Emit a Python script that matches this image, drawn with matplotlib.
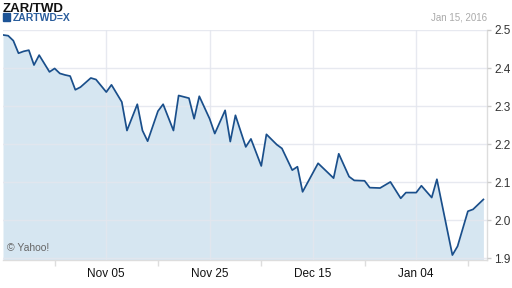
import matplotlib
matplotlib.use("Agg")
import matplotlib.pyplot as plt
import pandas as pd

plt.rcParams['font.family'] = ['Liberation Sans', 'DejaVu Sans']

title = "ZAR/TWD"
series_name = "ZARTWD=X"
date_label = "Jan 15, 2016"
credit = "\u00a9 Yahoo!"

dates = ["2015-10-16", "2015-10-17", "2015-10-18", "2015-10-19", "2015-10-20",
         "2015-10-21", "2015-10-22", "2015-10-23", "2015-10-25", "2015-10-26",
         "2015-10-27", "2015-10-28", "2015-10-29", "2015-10-30", "2015-10-31",
         "2015-11-02", "2015-11-03", "2015-11-05", "2015-11-06", "2015-11-08",
         "2015-11-09", "2015-11-11", "2015-11-12", "2015-11-13", "2015-11-15",
         "2015-11-16", "2015-11-18", "2015-11-19", "2015-11-21", "2015-11-22",
         "2015-11-23", "2015-11-25", "2015-11-26", "2015-11-28", "2015-11-29",
         "2015-11-30", "2015-12-02", "2015-12-03", "2015-12-05", "2015-12-06",
         "2015-12-08", "2015-12-09", "2015-12-11", "2015-12-12", "2015-12-13",
         "2015-12-16", "2015-12-19", "2015-12-20", "2015-12-22", "2015-12-23",
         "2015-12-25", "2015-12-26", "2015-12-28", "2015-12-30", "2016-01-01",
         "2016-01-02", "2016-01-04", "2016-01-05", "2016-01-07", "2016-01-08",
         "2016-01-11", "2016-01-12", "2016-01-14", "2016-01-15", "2016-01-17"]

rates = [2.487, 2.485, 2.472, 2.439, 2.444, 2.447, 2.408, 2.434,
         2.390, 2.399, 2.386, 2.382, 2.379, 2.343, 2.350,
         2.374, 2.370, 2.337, 2.356, 2.311, 2.236, 2.305, 2.236, 2.208,
         2.287, 2.305, 2.236, 2.328, 2.321, 2.267, 2.326,
         2.267, 2.228, 2.289, 2.207, 2.276,
         2.193, 2.214, 2.143, 2.226, 2.199, 2.189, 2.132, 2.141, 2.075,
         2.150, 2.111, 2.175, 2.115, 2.105, 2.104, 2.086, 2.085, 2.101,
         2.058, 2.073, 2.073, 2.091, 2.060, 2.108,
         1.909, 1.932, 2.024, 2.029, 2.055]

y_ticks = [1.9, 2.0, 2.1, 2.2, 2.3, 2.4, 2.5]
x_major = ["2015-11-05", "2015-11-25", "2015-12-15", "2016-01-04"]
x_minor = ["2015-10-26", "2015-11-15", "2015-12-05", "2015-12-25", "2016-01-14"]
x_major_labels = ["Nov 05", "Nov 25", "Dec 15", "Jan 04"]

x = pd.to_datetime(dates)
line_color = "#1a4f8b"
fill_color = "#d6e6f1"
grid_color = "#e3e6ee"

W, H = 512, 288
fig = plt.figure(figsize=(W / 100, H / 100), dpi=100)
ax = fig.add_axes([3 / W, 28 / H, 484 / W, 230 / H])

ymin = 1.896
ax.fill_between(x, rates, ymin, color=fill_color, lw=0, zorder=1)
ax.plot(x, rates, color=line_color, lw=1.25, zorder=3)

ax.set_ylim(ymin, 2.5)
ax.set_xlim(pd.Timestamp("2015-10-16"), pd.Timestamp("2015-10-16") + pd.Timedelta(days=93.7))

ax.yaxis.tick_right()
ax.set_yticks(y_ticks)
ax.set_yticklabels([f"{v:.1f}" for v in y_ticks])
ax.set_xticks(pd.to_datetime(x_major))
ax.set_xticklabels(x_major_labels)
ax.set_xticks(pd.to_datetime(x_minor), minor=True)

ax.tick_params(axis='y', which='major', length=3, width=1, color='#cccccc',
               labelsize=8.5, labelcolor='#333333', pad=2)
ax.tick_params(axis='x', which='major', length=0, labelsize=8.5,
               labelcolor='#111111', pad=6)
ax.tick_params(axis='x', which='minor', length=4, width=1, color='#dddddd')

ax.grid(True, which='major', color=grid_color, lw=1, alpha=0.85, zorder=2)
ax.set_axisbelow(False)
for gl in ax.get_xgridlines() + ax.get_ygridlines():
    gl.set_zorder(2)

for s in ['top', 'left']:
    ax.spines[s].set_visible(False)
ax.spines['bottom'].set_color('#dddddd')
ax.spines['right'].set_color('#dddddd')
ax.spines['bottom'].set_linewidth(1)
ax.spines['right'].set_linewidth(1)
ax.set_facecolor('white')

ax.text(0.008, 0.03, credit, transform=ax.transAxes, fontsize=7.5,
        color='#666666', ha='left', va='bottom', zorder=4)

fig.text(3 / W, 1 - 11.5 / H, title, fontsize=9.5, fontweight='bold',
         color='#111111', ha='left', va='baseline')
fig.patches.append(plt.Rectangle((3 / W, 1 - 21 / H), 7 / W, 8 / H,
                                 transform=fig.transFigure, color='#1d5496',
                                 figure=fig))
fig.text(13 / W, 1 - 21 / H, series_name, fontsize=7.5, fontweight='bold',
         color='#2a5d9c', ha='left', va='baseline')
fig.text(487 / W, 1 - 21 / H, date_label, fontsize=7, color='#aaaaaa',
         ha='right', va='baseline')

fig.savefig("out.png", dpi=100)
